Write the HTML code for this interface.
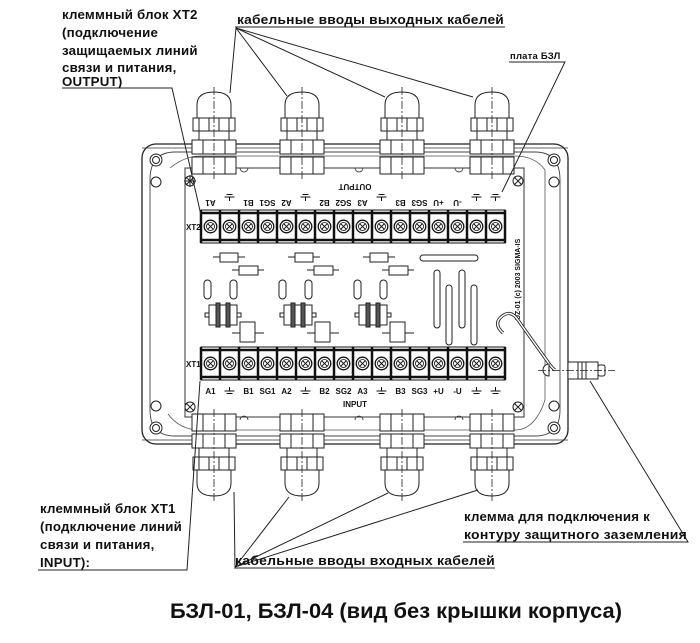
<!DOCTYPE html>
<html><head><meta charset="utf-8"><style>
html,body{margin:0;padding:0;background:#fff}
svg{display:block}
.t{font-family:"Liberation Sans","DejaVu Sans",sans-serif;font-weight:bold;font-size:13.3px;fill:#111;letter-spacing:0.2px}
.s{font-family:"Liberation Sans",sans-serif;font-weight:bold;font-size:8px;fill:#111}
</style></head><body>
<svg width="700" height="643" viewBox="0 0 700 643" xmlns="http://www.w3.org/2000/svg">
<defs>
<g id="glandT" fill="#fff" stroke="#222" stroke-width="1">
  <path d="M-17,19 L-17,6 Q-17,-7 0,-7 Q17,-7 17,6 L17,19 Z"/>
  <rect x="-21" y="19" width="42" height="13"/>
  <line x1="-15" y1="19" x2="-15" y2="32"/><line x1="-5" y1="19" x2="-5" y2="32"/><line x1="5" y1="19" x2="5" y2="32"/><line x1="15" y1="19" x2="15" y2="32"/>
  <rect x="-15" y="32" width="30" height="9"/>
  <rect x="-22" y="41" width="44" height="14"/>
  <line x1="-11" y1="41" x2="-11" y2="55"/><line x1="11" y1="41" x2="11" y2="55"/>
  <rect x="-22" y="58" width="44" height="17"/>
  <line x1="-11" y1="58" x2="-11" y2="75"/><line x1="11" y1="58" x2="11" y2="75"/>
  <line x1="0" y1="-12" x2="0" y2="80" stroke-dasharray="8,2,2,2" stroke-width="0.8"/>
</g>
<g id="term">
  <rect x="0" y="0" width="19" height="33" fill="#fff" stroke="#111" stroke-width="1"/>
  <line x1="0" y1="3" x2="19" y2="3" stroke="#111" stroke-width="2.5"/>
  <line x1="0" y1="30" x2="19" y2="30" stroke="#111" stroke-width="2.5"/>
  <line x1="0" y1="0" x2="0" y2="33" stroke="#111" stroke-width="2.5"/>
  <circle cx="9.5" cy="16.5" r="6.3" fill="#fff" stroke="#111" stroke-width="1.3"/>
  <circle cx="9.5" cy="16.5" r="4" fill="none" stroke="#111" stroke-width="0.8"/>
  <path d="M6.8,13.8 L12.2,19.2 M12.2,13.8 L6.8,19.2" stroke="#111" stroke-width="1"/>
</g>
<g id="gnd" stroke="#111" stroke-width="1"><line x1="-5" y1="0" x2="5" y2="0"/><line x1="-3" y1="2.5" x2="3" y2="2.5"/><line x1="0" y1="-4" x2="0" y2="0"/></g>
<g id="grp" fill="#fff" stroke="#222" stroke-width="1">
  <line x1="213" y1="257" x2="245" y2="257"/><rect x="220" y="253" width="18" height="9"/>
  <line x1="232" y1="270" x2="264" y2="270"/><rect x="239" y="266" width="19" height="9"/>
  <rect x="204" y="280" width="7" height="19" rx="3.5"/><rect x="230" y="280" width="7" height="19" rx="3.5"/>
  <rect x="205" y="313" width="4" height="4"/><rect x="237" y="313" width="4" height="4"/>
  <rect x="209" y="305" width="28" height="20"/>
  <rect x="216" y="303" width="4" height="24" fill="#555"/><rect x="226" y="303" width="4" height="24" fill="#555"/>
  <line x1="232" y1="333" x2="264" y2="333"/><rect x="240" y="322" width="15" height="20"/>
</g>
</defs>

<rect x="142" y="144" width="426" height="300" rx="14" fill="#fff" stroke="#222" stroke-width="1.3"/>
<path d="M150,200 L150,180 Q150,152 175,152 L535,152 Q560,152 560,180 L560,410 Q560,436 535,436 L175,436 Q150,436 150,410 Z" fill="none" stroke="#444" stroke-width="0.9"/>
<path d="M170,168 Q185,156 200,156 L515,156 Q535,156 545,170 L545,400 Q535,430 515,430 L200,430 Q180,430 168,414" fill="none" stroke="#555" stroke-width="0.8"/>
<line x1="142" y1="148" x2="568" y2="148" stroke="#333" stroke-width="0.8"/>
<line x1="142" y1="440" x2="568" y2="440" stroke="#333" stroke-width="0.8"/>
<g fill="#fff" stroke="#222" stroke-width="1">
<circle cx="156" cy="160" r="6"/><circle cx="156" cy="160" r="3.5"/><circle cx="156" cy="182" r="5"/>
<circle cx="554" cy="160" r="6"/><circle cx="554" cy="160" r="3.5"/><circle cx="554" cy="182" r="5"/>
<circle cx="156" cy="428" r="6"/><circle cx="156" cy="428" r="3.5"/><circle cx="156" cy="406" r="5"/>
<circle cx="554" cy="428" r="6"/><circle cx="554" cy="428" r="3.5"/><circle cx="554" cy="406" r="5"/>
</g>
<rect x="185" y="168" width="339" height="249" fill="#fff" stroke="#333" stroke-width="1"/>
<g fill="none" stroke="#222" stroke-width="1">
<circle cx="190" cy="181" r="5"/><path d="M186,177 L194,185 M194,177 L186,185 M190,175 V187 M184,181 H196"/>
<circle cx="518" cy="181" r="5"/><path d="M514,177 L522,185 M522,177 L514,185"/>
<circle cx="190" cy="407" r="5"/><path d="M186,403 L194,411 M194,403 L186,411"/>
<circle cx="518" cy="407" r="5"/><path d="M514,403 L522,411 M522,403 L514,411"/>
</g>
<use href="#glandT" x="214" y="99"/>
<use href="#glandT" x="302" y="99"/>
<use href="#glandT" x="402" y="99"/>
<use href="#glandT" x="492" y="99"/>
<use href="#glandT" transform="translate(214,489) scale(1,-1)"/>
<use href="#glandT" transform="translate(302,489) scale(1,-1)"/>
<use href="#glandT" transform="translate(402,489) scale(1,-1)"/>
<use href="#glandT" transform="translate(492,489) scale(1,-1)"/>
<g fill="none" stroke="#333" stroke-width="0.8">
<path d="M240,168 a4,4 0 0 0 8,0 M455,168 a4,4 0 0 0 8,0 M355,168 a4,4 0 0 0 8,0"/>
<path d="M240,420 a4,4 0 0 1 8,0 M455,420 a4,4 0 0 1 8,0 M355,420 a4,4 0 0 1 8,0"/>
</g>

<g>
<use href="#term" x="201" y="210"/><use href="#term" x="220" y="210"/><use href="#term" x="239" y="210"/><use href="#term" x="258" y="210"/>
<use href="#term" x="277" y="210"/><use href="#term" x="296" y="210"/><use href="#term" x="315" y="210"/><use href="#term" x="334" y="210"/>
<use href="#term" x="353" y="210"/><use href="#term" x="372" y="210"/><use href="#term" x="391" y="210"/><use href="#term" x="410" y="210"/>
<use href="#term" x="429" y="210"/><use href="#term" x="448" y="210"/><use href="#term" x="467" y="210"/><use href="#term" x="486" y="210"/>
<line x1="505" y1="210" x2="505" y2="243" stroke="#111" stroke-width="2.5"/>
</g>
<text class="s" x="186" y="230">XT2</text>
<g class="s" text-anchor="middle">
<text transform="translate(210.5,200) rotate(180)">A1</text>
<text transform="translate(248.5,200) rotate(180)">B1</text>
<text transform="translate(267.5,200) rotate(180)">SG1</text>
<text transform="translate(286.5,200) rotate(180)">A2</text>
<text transform="translate(324.5,200) rotate(180)">B2</text>
<text transform="translate(343.5,200) rotate(180)">SG2</text>
<text transform="translate(362.5,200) rotate(180)">A3</text>
<text transform="translate(400.5,200) rotate(180)">B3</text>
<text transform="translate(419.5,200) rotate(180)">SG3</text>
<text transform="translate(438.5,200) rotate(180)">+U</text>
<text transform="translate(457.5,200) rotate(180)">-U</text>
<text transform="translate(355,184) rotate(180)">OUTPUT</text>
</g>
<use href="#gnd" transform="translate(229.5,197) rotate(180)"/>
<use href="#gnd" transform="translate(305.5,197) rotate(180)"/>
<use href="#gnd" transform="translate(381.5,197) rotate(180)"/>
<use href="#gnd" transform="translate(476.5,197) rotate(180)"/>
<use href="#gnd" transform="translate(495.5,197) rotate(180)"/>

<use href="#grp"/>
<use href="#grp" x="75"/>
<use href="#grp" x="150"/>
<g fill="#fff" stroke="#222" stroke-width="1">
<rect x="420" y="255" width="58" height="6" rx="3"/>
<rect x="434" y="270" width="6" height="58" rx="3"/>
<rect x="446" y="285" width="6" height="60" rx="3"/>
<rect x="459" y="270" width="6" height="58" rx="3"/>
<rect x="471" y="285" width="6" height="60" rx="3"/>
</g>
<text class="s" style="font-size:7px" transform="translate(520,320) rotate(-90)">UZ-01 (c) 2003 SIGMA-IS</text>

<g>
<use href="#term" x="201" y="347"/><use href="#term" x="220" y="347"/><use href="#term" x="239" y="347"/><use href="#term" x="258" y="347"/>
<use href="#term" x="277" y="347"/><use href="#term" x="296" y="347"/><use href="#term" x="315" y="347"/><use href="#term" x="334" y="347"/>
<use href="#term" x="353" y="347"/><use href="#term" x="372" y="347"/><use href="#term" x="391" y="347"/><use href="#term" x="410" y="347"/>
<use href="#term" x="429" y="347"/><use href="#term" x="448" y="347"/><use href="#term" x="467" y="347"/><use href="#term" x="486" y="347"/>
<line x1="505" y1="347" x2="505" y2="380" stroke="#111" stroke-width="2.5"/>
</g>
<text class="s" x="186" y="367">XT1</text>
<g class="s" text-anchor="middle">
<text x="210.5" y="394">A1</text><text x="248.5" y="394">B1</text><text x="267.5" y="394">SG1</text><text x="286.5" y="394">A2</text>
<text x="324.5" y="394">B2</text><text x="343.5" y="394">SG2</text><text x="362.5" y="394">A3</text>
<text x="400.5" y="394">B3</text><text x="419.5" y="394">SG3</text><text x="438.5" y="394">+U</text><text x="457.5" y="394">-U</text>
<text x="355" y="407">INPUT</text>
</g>
<use href="#gnd" x="229.5" y="391"/><use href="#gnd" x="305.5" y="391"/><use href="#gnd" x="381.5" y="391"/>
<use href="#gnd" x="476.5" y="391"/><use href="#gnd" x="495.5" y="391"/>

<path d="M503,333 Q494,325 500,318 Q510,308 518,320 Q532,340 548,362 Q552,368 555,370" fill="none" stroke="#222" stroke-width="3.2"/>
<path d="M503,333 Q494,325 500,318 Q510,308 518,320 Q532,340 548,362 Q552,368 555,370" fill="none" stroke="#fff" stroke-width="1.5"/>
<path d="M549,364 a6,6 0 0 0 0,12 Z" fill="#fff" stroke="#222"/>
<g fill="#fff" stroke="#222" stroke-width="1">
<rect x="568" y="362" width="30" height="17"/>
<rect x="598" y="365" width="7" height="11" rx="2"/>
<line x1="578" y1="362" x2="578" y2="379"/><line x1="582" y1="362" x2="582" y2="379"/><line x1="586" y1="362" x2="586" y2="379"/>
</g>
<line x1="538" y1="370.5" x2="615" y2="370.5" stroke="#222" stroke-width="0.8" stroke-dasharray="8,2,2,2"/>

<g stroke="#222" stroke-width="1" fill="none">
<polyline points="62,88 172,88 201,215"/>
<polyline points="235,27 505,27"/>
<line x1="236" y1="28" x2="230" y2="93"/>
<line x1="236" y1="28" x2="287" y2="96"/>
<line x1="236" y1="28" x2="385" y2="97"/>
<line x1="236" y1="28" x2="473" y2="97"/>
<polyline points="509,62 565,62 502,192"/>
<polyline points="38,570 187,570 200,381"/>
<polyline points="234,568 495,568"/>
<line x1="235" y1="567" x2="234" y2="492"/>
<line x1="235" y1="567" x2="289" y2="497"/>
<line x1="235" y1="567" x2="388" y2="493"/>
<line x1="235" y1="567" x2="478" y2="490"/>
<polyline points="463,542 688,542 590,381"/>
</g>

<g class="t">
<text x="62" y="19">клеммный блок XT2</text>
<text x="62" y="37">(подключение</text>
<text x="62" y="55">защищаемых линий</text>
<text x="62" y="72">связи и питания,</text>
<text x="62" y="86">OUTPUT)</text>
<text x="237" y="24" textLength="267" lengthAdjust="spacingAndGlyphs">кабельные вводы выходных кабелей</text>
<text x="510" y="59" style="font-size:9.5px">плата БЗЛ</text>
<text x="40" y="513">клеммный блок XT1</text>
<text x="40" y="531">(подключение линий</text>
<text x="40" y="549">связи и питания,</text>
<text x="40" y="567">INPUT):</text>
<text x="235" y="565" textLength="260" lengthAdjust="spacingAndGlyphs">кабельные вводы входных кабелей</text>
<text x="464" y="521">клемма для подключения к</text>
<text x="464" y="539" textLength="223" lengthAdjust="spacingAndGlyphs">контуру защитного заземления</text>
</g>
<text x="170" y="618" textLength="452" lengthAdjust="spacingAndGlyphs" style="font-family:'Liberation Sans',sans-serif;font-weight:bold;font-size:21px;fill:#111">БЗЛ-01, БЗЛ-04 (вид без крышки корпуса)</text>
</svg>
</body></html>
